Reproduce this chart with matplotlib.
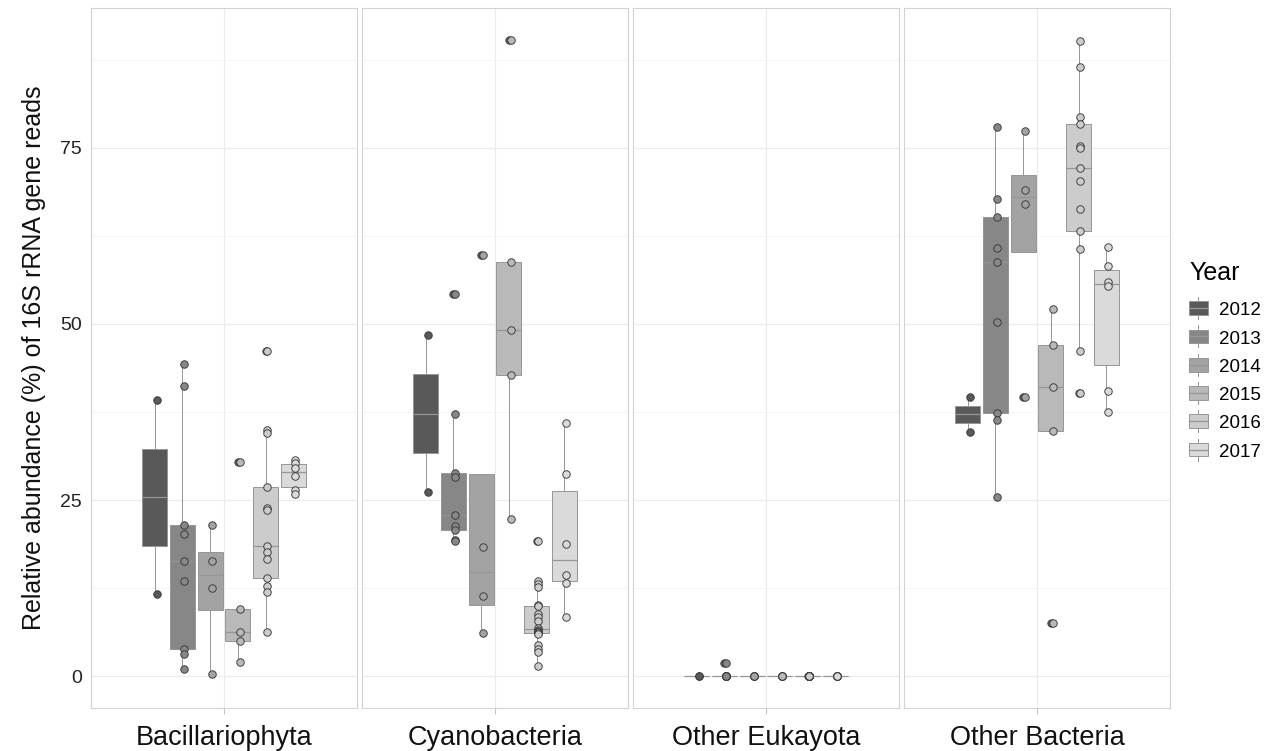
import numpy as np
import matplotlib
matplotlib.use("Agg")
import matplotlib.pyplot as plt
from matplotlib.legend_handler import HandlerBase
from matplotlib.patches import Rectangle
from matplotlib.lines import Line2D

plt.rcParams["font.family"] = ["Liberation Sans", "DejaVu Sans"]

# relative abundance (%) per year
years = ["2012", "2013", "2014", "2015", "2016", "2017"]
categories = ["Bacillariophyta", "Cyanobacteria", "Other Eukayota", "Other Bacteria"]

bacillariophyta = [
    [39.2, 11.6],
    [44.3, 41.2, 21.4, 20.2, 16.3, 13.5, 3.9, 3.1, 1.0],
    [21.4, 16.3, 12.5, 0.3],
    [30.4, 9.6, 6.2, 5.0, 2.0],
    [46.2, 34.9, 34.5, 26.8, 23.8, 23.6, 18.5, 17.6, 16.6, 14.0, 12.8, 11.9, 6.3],
    [30.7, 30.2, 29.6, 28.4, 26.4, 25.9],
]
cyanobacteria = [
    [48.4, 26.1],
    [54.3, 37.2, 28.9, 28.2, 22.9, 21.3, 20.8, 19.3, 19.2],
    [59.8, 18.3, 11.4, 6.1],
    [90.3, 58.8, 49.1, 42.8, 22.3],
    [19.2, 13.5, 13.1, 12.7, 10.1, 10.0, 8.8, 8.4, 7.8, 6.8,
     6.5, 6.4, 6.3, 6.2, 6.1, 6.0, 4.4, 3.9, 3.4, 1.5],
    [35.9, 28.7, 18.8, 14.3, 13.2, 8.4],
]
other_eukaryota = [
    [0.0, 0.0],
    [1.8, 0.0, 0.0, 0.0, 0.0, 0.0, 0.0, 0.0, 0.0],
    [0.0, 0.0, 0.0, 0.0],
    [0.0, 0.0, 0.0, 0.0, 0.0],
    [0.05] + [0.0] * 19,
    [0.0, 0.0, 0.0, 0.0, 0.0, 0.0],
]
other_bacteria = [
    [39.6, 34.7],
    [77.9, 67.7, 65.1, 60.7, 58.8, 50.2, 37.4, 36.3, 25.4],
    [77.4, 69.0, 67.0, 39.6],
    [52.1, 47.0, 41.1, 34.8, 7.5],
    [90.2, 86.5, 79.3, 78.3, 75.3, 74.9, 72.1, 70.2, 66.3, 63.2, 60.6, 46.1, 40.2],
    [60.9, 58.2, 55.9, 55.3, 40.5, 37.5],
]
panels = [bacillariophyta, cyanobacteria, other_eukaryota, other_bacteria]

fills = ["#595959", "#878787", "#a3a3a3", "#b9b9b9", "#cccccc", "#dadada"]
edge = "#969696"
dodge = 0.125
box_w = 0.1125

# y limits like ggplot: 5% expansion of data range
allv = [v for p in panels for g in p for v in g]
lo, hi = min(allv), max(allv)
pad = (hi - lo) * 0.05
ylim = (lo - pad, hi + pad)

W, H = 1279, 751
fig = plt.figure(figsize=(W / 100, H / 100), dpi=100)

left, pw, gap = 91, 266, 5
top, bottom = 8, 708
axes = []
for i, (cat, groups) in enumerate(zip(categories, panels)):
    x0 = left + i * (pw + gap)
    ax = fig.add_axes([x0 / W, (H - bottom) / H, pw / W, (bottom - top) / H])
    axes.append(ax)
    pos = [1 + (k - 2.5) * dodge for k in range(len(years))]
    for k, (g, pcol) in enumerate(zip(groups, pos)):
        bp = ax.boxplot(g, positions=[pcol], widths=box_w, whis=1.5,
                        patch_artist=True, showcaps=False, manage_ticks=False,
                        boxprops=dict(facecolor=fills[k], edgecolor=edge, linewidth=0.7),
                        medianprops=dict(color=edge, linewidth=0.9),
                        whiskerprops=dict(color=edge, linewidth=0.7),
                        flierprops=dict(marker="o", markersize=5.4,
                                        markerfacecolor="#5a5a5a",
                                        markeredgecolor="#3a3a3a",
                                        markeredgewidth=0.5))
        for art in bp["boxes"] + bp["whiskers"] + bp["medians"]:
            art.set_zorder(2)
        ax.plot(np.full(len(g), pcol + 0.008), g, "o", ms=5.4,
                mfc=fills[k], mec="#383838", mew=0.65, zorder=4)

    ax.set_xlim(0.4, 1.6)
    ax.set_ylim(*ylim)
    ax.set_xticks([1])
    ax.set_xticklabels([cat], fontsize=19.5, color="#111111")
    ax.set_yticks([0, 25, 50, 75])
    ax.set_yticks([12.5, 37.5, 62.5, 87.5], minor=True)
    ax.grid(True, which="major", color="#ebebeb", linewidth=0.8, zorder=0)
    ax.grid(True, which="minor", axis="y", color="#f4f4f4", linewidth=0.6, zorder=0)
    ax.set_axisbelow(True)
    ax.tick_params(axis="x", length=4, width=0.6, color="#b3b3b3", pad=8)
    ax.tick_params(axis="y", which="both", length=0)
    if i == 0:
        ax.set_yticklabels(["0", "25", "50", "75"], fontsize=14, color="#222222")
        ax.tick_params(axis="y", pad=6.5)
        ax.set_ylabel("Relative abundance (%) of 16S rRNA gene reads",
                      fontsize=18, color="#111111", labelpad=10)
    else:
        ax.set_yticklabels([])
    for s in ax.spines.values():
        s.set_color("#d2d2d2")
        s.set_linewidth(0.8)


class BoxKey(HandlerBase):
    def create_artists(self, legend, orig_handle, xd, yd, width, height, fontsize, trans):
        fc = orig_handle.get_facecolor()
        rect = Rectangle((xd, yd), width, height, facecolor=fc,
                         edgecolor=edge, linewidth=0.7, transform=trans)
        med = Line2D([xd, xd + width], [yd + height / 2] * 2, color=edge,
                     linewidth=0.9, transform=trans)
        wup = Line2D([xd + width / 2] * 2, [yd + height, yd + height * 1.3],
                     color=edge, linewidth=0.7, transform=trans)
        wdn = Line2D([xd + width / 2] * 2, [yd, yd - height * 0.3],
                     color=edge, linewidth=0.7, transform=trans)
        return [wup, wdn, rect, med]


handles = [Rectangle((0, 0), 1, 1, facecolor=c) for c in fills]
leg = fig.legend(handles, years, handler_map={Rectangle: BoxKey()},
                 loc="center left", bbox_to_anchor=(1189 / W, (H - 361) / H),
                 frameon=False, title="Year", fontsize=13.5,
                 title_fontsize=18, handlelength=1.0, handleheight=0.75,
                 labelspacing=0.58, handletextpad=0.6, borderaxespad=0,
                 borderpad=0)
leg._legend_box.align = "left"
leg._legend_box.sep = 12

fig.savefig("out.png", dpi=100)
